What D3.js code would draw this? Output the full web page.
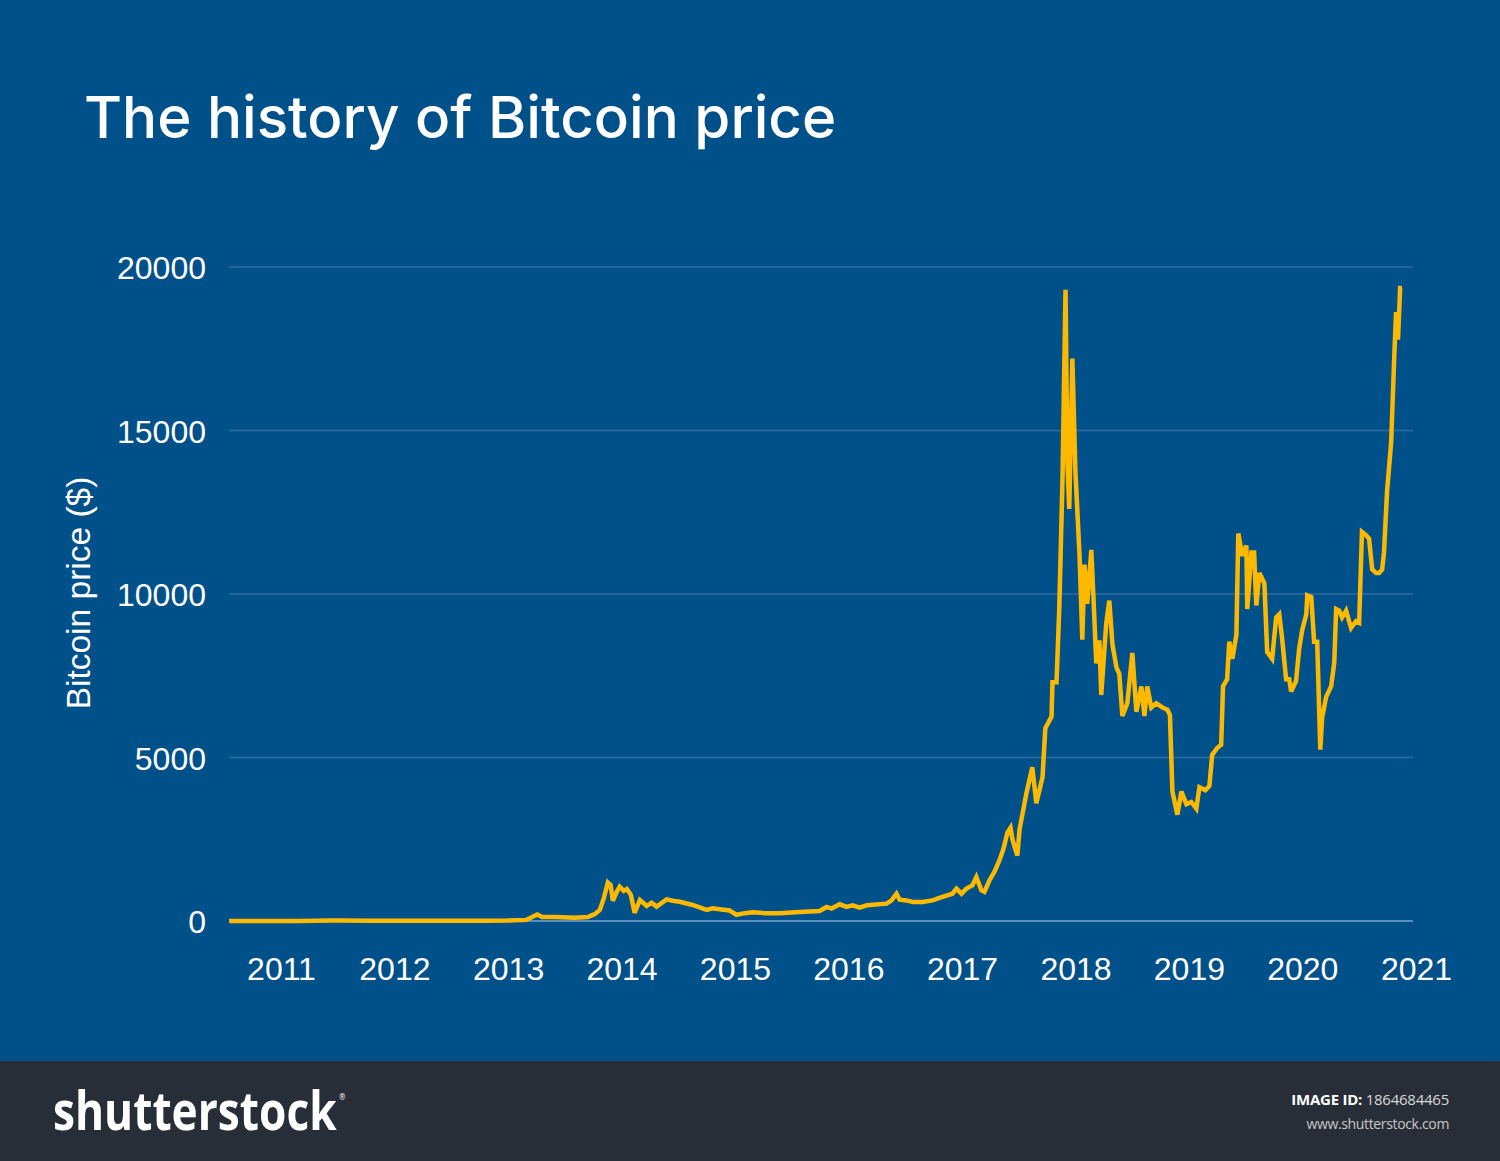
<!DOCTYPE html>
<html>
<head>
<meta charset="utf-8">
<script src="https://cdn.jsdelivr.net/npm/d3@7"></script>
<style>
  html, body { margin: 0; padding: 0; background: #00508a; }
  svg { display: block; }
</style>
</head>
<body>
<svg id="chart" width="1500" height="1161"></svg>
<script>
// ---------- DATA ----------
const dates = [
  "2010-07-18","2010-10-01","2011-01-01","2011-03-01","2011-06-08","2011-07-15","2011-10-01",
  "2012-01-01","2012-05-01","2012-08-15","2012-11-01","2013-01-01","2013-03-01","2013-04-05",
  "2013-04-20","2013-06-01","2013-08-01","2013-09-15","2013-10-07","2013-10-23","2013-11-05",
  "2013-11-18","2013-11-27","2013-12-04","2013-12-17","2013-12-26","2014-01-08","2014-01-18",
  "2014-01-31","2014-02-12","2014-03-01","2014-03-23","2014-04-08","2014-04-24","2014-05-26",
  "2014-06-15","2014-07-07","2014-08-18","2014-10-02","2014-10-21","2014-11-13","2014-12-15",
  "2015-01-06","2015-02-01","2015-02-27","2015-04-06","2015-05-25","2015-07-28","2015-09-30",
  "2015-10-23","2015-11-08","2015-12-04","2015-12-26","2016-01-15","2016-02-06","2016-02-29",
  "2016-05-03","2016-05-19","2016-06-04","2016-06-14","2016-07-06","2016-07-26","2016-08-27",
  "2016-09-28","2016-10-20","2016-12-01","2016-12-14","2016-12-30","2017-01-15","2017-02-03",
  "2017-02-16","2017-03-04","2017-03-14","2017-03-30","2017-04-15","2017-05-01","2017-05-14",
  "2017-05-27","2017-06-06","2017-06-12","2017-06-28","2017-07-05","2017-07-27",
  "2017-08-15","2017-08-28","2017-09-17","2017-09-26","2017-10-16","2017-10-19","2017-11-01",
  "2017-11-10","2017-11-20","2017-11-30","2017-12-06","2017-12-12","2017-12-22","2018-01-01",
  "2018-01-14","2018-01-23","2018-01-30","2018-02-08","2018-02-21","2018-02-28","2018-03-09",
  "2018-03-19","2018-03-25","2018-04-10","2018-04-20","2018-04-30","2018-05-13","2018-05-22",
  "2018-06-01","2018-06-17","2018-07-03","2018-07-16","2018-08-01","2018-08-11","2018-08-20",
  "2018-09-02","2018-09-18","2018-10-08","2018-10-24","2018-11-01","2018-11-09","2018-11-25",
  "2018-12-08","2018-12-24","2019-01-09","2019-01-25","2019-02-04","2019-02-23","2019-03-08",
  "2019-03-17","2019-04-02","2019-04-15","2019-04-21","2019-05-04","2019-05-11","2019-05-21",
  "2019-06-03","2019-06-09","2019-06-22","2019-07-05","2019-07-08","2019-07-21","2019-07-30",
  "2019-08-06","2019-08-16","2019-09-01","2019-09-10","2019-09-26","2019-10-09","2019-10-19",
  "2019-10-28","2019-11-10","2019-11-20","2019-11-26","2019-12-12","2019-12-22","2020-01-01",
  "2020-01-14","2020-01-17","2020-01-30","2020-02-08","2020-02-18","2020-02-28","2020-03-05",
  "2020-03-18","2020-04-03","2020-04-13","2020-04-19","2020-04-29","2020-05-08","2020-05-21",
  "2020-06-06","2020-06-22","2020-07-02","2020-07-11","2020-07-24","2020-08-03","2020-08-13",
  "2020-08-26","2020-09-04","2020-09-14","2020-09-20","2020-09-30","2020-10-13","2020-10-23",
  "2020-10-29","2020-11-04","2020-11-11","2020-11-17"
];
const prices = [
  0.08,0.1,0.3,0.9,15,14,5,
  5,5,11,11,13,34,200,
  120,125,100,125,210,340,700,
  1180,1100,620,900,1050,920,980,
  800,250,640,460,560,440,660,
  620,590,490,340,390,360,320,
  190,240,270,240,240,275,305,
  430,380,510,430,480,410,480,
  530,630,835,650,630,580,580,
  630,710,835,990,835,990,1090,
  1345,940,890,1240,1500,1850,2200,
  2700,2850,2500,2000,2800,3900,
  4700,3600,4400,5900,6250,7300,7300,
  9600,13400,19300,14000,12600,17200,13700,
  11200,8600,10900,9700,11350,9870,7880,
  8580,6910,9100,9800,8460,7750,7560,
  6270,6660,8200,6400,7170,6270,7170,
  6530,6660,6530,6460,6300,3960,3250,
  3960,3570,3640,3440,4090,4000,4130,
  5080,5290,5390,7180,7390,8540,8020,
  8750,11850,11170,11480,9540,11270,11270,
  9650,10640,10330,8230,8020,9280,9380,
  8650,7390,7390,7020,7340,8330,8910,
  9380,9960,9910,8540,8540,5240,6230,
  6860,7180,7910,9540,9490,9280,9490,
  8960,9170,9120,11900,11800,11690,10750,
  10640,10640,10750,11270,13160,14630,17260,
  18620,17780,19360,19360
];
const yearTicks = ["2011","2012","2013","2014","2015","2016","2017","2018","2019","2020","2021"];
const priceTicks = [0, 5000, 10000, 15000, 20000];
const titleText = "The history of Bitcoin price";
const yAxisTitle = "Bitcoin price ($)";

// ---------- SETUP ----------
const parse = d3.timeParse("%Y-%m-%d");
const parseYear = d3.timeParse("%Y");
const series = dates.map((d, i) => ({ date: parse(d), value: prices[i] }));

const svg = d3.select("#chart");
const W = 1500, H = 1161;
const footerH = 100;

svg.append("rect").attr("x", 0).attr("y", 0).attr("width", W).attr("height", H)
  .attr("fill", "#00508a");

const x = d3.scaleTime()
  .domain([parseYear("2011"), parseYear("2021")])
  .range([281, 1416]);
const y = d3.scaleLinear().domain([0, 20000]).range([921, 267]);

const gridX0 = x(series[0].date);
const gridX1 = 1413;

// gridlines
const grid = svg.append("g");
grid.selectAll("line").data(priceTicks).join("line")
  .attr("x1", gridX0).attr("x2", gridX1)
  .attr("y1", d => y(d)).attr("y2", d => y(d))
  .attr("stroke", d => d === 0 ? "#5d8fba" : "#2f6c9f")
  .attr("stroke-width", d => d === 0 ? 2 : 1.5);

// y axis
const yAxis = d3.axisLeft(y).tickValues(priceTicks).tickSize(0).tickPadding(0)
  .tickFormat(d3.format("d"));
const gy = svg.append("g").attr("transform", "translate(206,0)").call(yAxis);
gy.select(".domain").remove();
gy.selectAll("text")
  .attr("fill", "#ffffff")
  .attr("font-family", "Liberation Sans, Arial, sans-serif")
  .attr("font-size", 32)
  .attr("dy", "0.36em");

// x axis
const xAxis = d3.axisBottom(x).tickValues(yearTicks.map(parseYear)).tickSize(0).tickPadding(0)
  .tickFormat(d3.timeFormat("%Y"));
const gx = svg.append("g").attr("transform", "translate(0,980)").call(xAxis);
gx.select(".domain").remove();
gx.selectAll("text")
  .attr("fill", "#ffffff")
  .attr("font-family", "Liberation Sans, Arial, sans-serif")
  .attr("font-size", 32)
  .attr("dy", 0);

// line
const line = d3.line().x(d => x(d.date)).y(d => y(d.value)).curve(d3.curveLinear);
svg.append("path").datum(series)
  .attr("d", line)
  .attr("fill", "none")
  .attr("stroke", "#fdb900")
  .attr("stroke-width", 4.5)
  .attr("stroke-linejoin", "miter")
  .attr("stroke-miterlimit", 3);

// title
svg.append("text")
  .attr("x", 84).attr("y", 138)
  .attr("fill", "#ffffff")
  .attr("font-family", "Inter, Liberation Sans, Arial, sans-serif")
  .attr("font-weight", 500)
  .attr("font-size", 58.3)
  .text(titleText);

// y axis title
svg.append("text")
  .attr("transform", "translate(90,593) rotate(-90)")
  .attr("text-anchor", "middle")
  .attr("fill", "#ffffff")
  .attr("font-family", "Liberation Sans, Arial, sans-serif")
  .attr("font-size", 33.5)
  .text(yAxisTitle);

// footer
svg.append("rect").attr("x", 0).attr("y", H - footerH).attr("width", W).attr("height", footerH)
  .attr("fill", "#282e38");
const logo = svg.append("text")
  .attr("transform", "translate(53,1130) scale(0.82,1)")
  .attr("fill", "#ffffff")
  .attr("font-family", "Open Sans, sans-serif")
  .attr("font-weight", 700)
  .attr("font-size", 54);
logo.append("tspan").text("shutterstock");
logo.append("tspan").attr("font-size", 9).attr("font-weight", 400).attr("dx", 3).attr("dy", -30).text("®");
const idText = svg.append("text")
  .attr("x", 1449).attr("y", 1105)
  .attr("text-anchor", "end")
  .attr("fill", "#e6e6e6")
  .attr("font-family", "Open Sans, sans-serif")
  .attr("font-size", 15)
  .attr("letter-spacing", -0.25);
idText.append("tspan").attr("font-weight", 700).attr("fill", "#ffffff").text("IMAGE ID: ");
idText.append("tspan").attr("fill", "#d8d8d8").text("1864684465");
svg.append("text")
  .attr("x", 1449).attr("y", 1129)
  .attr("text-anchor", "end")
  .attr("fill", "#c8c8c8")
  .attr("font-family", "Open Sans, sans-serif")
  .attr("font-size", 14)
  .attr("letter-spacing", -0.35)
  .text("www.shutterstock.com");
</script>
</body>
</html>
